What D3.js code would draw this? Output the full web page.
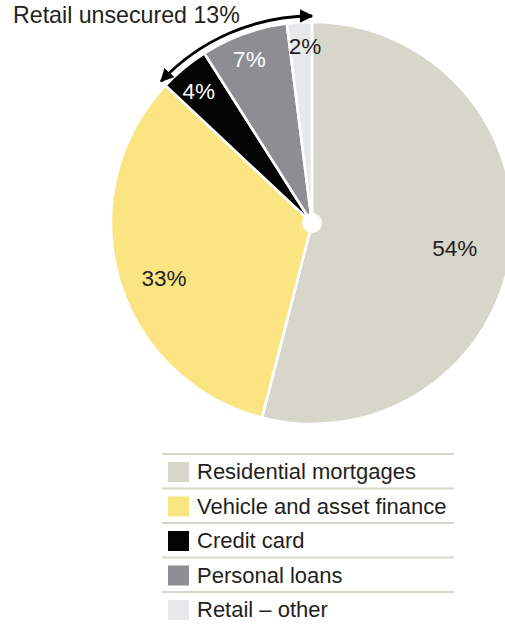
<!DOCTYPE html>
<html>
<head>
<meta charset="utf-8">
<script src="https://cdn.jsdelivr.net/npm/d3@7"></script>
<style>
  html, body { margin: 0; padding: 0; background: #fff; }
  svg { display: block; font-family: "Liberation Sans", Arial, Helvetica, sans-serif; }
</style>
</head>
<body>
<svg id="chart" width="505" height="624"></svg>
<script>
// Retail lending mix, percent of portfolio
const categories = ["Residential mortgages", "Vehicle and asset finance", "Credit card", "Personal loans", "Retail – other"];
const shares = [54, 33, 4, 7, 2];
const sliceColors = ["#d6d6cb", "#fbe482", "#030303", "#8e8d92", "#e7e8ea"];
const labelColors = ["#231f20", "#231f20", "#ffffff", "#ffffff", "#231f20"];
// Segments grouped under the bracket arrow
const unsecuredGroup = ["Credit card", "Personal loans", "Retail – other"];
const unsecuredTitle = "Retail unsecured";

const svg = d3.select("#chart");
const cx = 312, cy = 223, R = 201;

const data = categories.map((c, i) => ({ category: c, value: shares[i], color: sliceColors[i], text: labelColors[i] }));

const pie = d3.pie().value(d => d.value).sort(null).startAngle(0).endAngle(2 * Math.PI);
const arcs = pie(data);
const arc = d3.arc().innerRadius(0).outerRadius(R);

const g = svg.append("g").attr("transform", `translate(${cx},${cy})`);

g.selectAll("path.slice")
  .data(arcs)
  .join("path")
  .attr("class", "slice")
  .attr("d", arc)
  .attr("fill", d => d.data.color)
  .attr("stroke", "#ffffff")
  .attr("stroke-width", 2.6)
  .attr("stroke-linejoin", "round");

// white hub
g.append("circle").attr("r", 10).attr("fill", "#ffffff");

// percentage labels: big slices sit inside, thin slices near the rim
const labelNudge = {
  "Residential mortgages": [-6, 6],
  "Vehicle and asset finance": [-4, 13],
  "Credit card": [-1, 4],
  "Personal loans": [-3, 1],
  "Retail – other": [4, -1]
};
g.selectAll("text.pct")
  .data(arcs)
  .join("text")
  .attr("class", "pct")
  .attr("transform", d => {
    const r = d.data.value >= 20 ? 150 : 176;
    const [x, y] = d3.arc().innerRadius(r).outerRadius(r).centroid(d);
    const n = labelNudge[d.data.category] || [0, 0];
    return `translate(${x + n[0]},${y + n[1]})`;
  })
  .attr("text-anchor", "middle")
  .attr("dy", "0.36em")
  .attr("font-size", 22.5)
  .attr("fill", d => d.data.text)
  .text(d => d.data.value + "%");

// bracket arrow spanning the unsecured segments
const groupArcs = arcs.filter(a => unsecuredGroup.includes(a.data.category));
const a0 = d3.min(groupArcs, a => a.startAngle);
const a1 = d3.max(groupArcs, a => a.endAngle);
const groupTotal = d3.sum(groupArcs, a => a.data.value);
const rb = 207;

const defs = svg.append("defs");
defs.append("marker")
  .attr("id", "head")
  .attr("viewBox", "0 0 10 10")
  .attr("refX", 9)
  .attr("refY", 5)
  .attr("markerWidth", 4.8)
  .attr("markerHeight", 4.8)
  .attr("orient", "auto-start-reverse")
  .append("path")
  .attr("d", "M0,0 L10,5 L0,10 Z")
  .attr("fill", "#000");

const bp = d3.path();
// d3.path angles measure from +x; pie angles measure from 12 o'clock
bp.arc(0, 0, rb, a0 - Math.PI / 2, a1 - Math.PI / 2, false);
g.append("path")
  .attr("d", bp.toString())
  .attr("fill", "none")
  .attr("stroke", "#000")
  .attr("stroke-width", 2.8)
  .attr("marker-start", "url(#head)")
  .attr("marker-end", "url(#head)");

svg.append("text")
  .attr("x", 13)
  .attr("y", 23)
  .attr("font-size", 23.2)
  .attr("fill", "#231f20")
  .text(`${unsecuredTitle} ${groupTotal}%`);

// legend
const legend = svg.append("g").attr("class", "legend");
const rowH = 34.5, legendTop = 454;
const rows = legend.selectAll("g.row")
  .data(data)
  .join("g")
  .attr("class", "row")
  .attr("transform", (d, i) => `translate(0,${legendTop + i * rowH})`);

rows.append("line")
  .attr("x1", 162).attr("x2", 454)
  .attr("y1", 0).attr("y2", 0)
  .attr("stroke", "#d6d6cb")
  .attr("stroke-width", 2);

rows.append("rect")
  .attr("x", 168).attr("y", 8)
  .attr("width", 21).attr("height", 20)
  .attr("fill", d => d.color);

rows.append("text")
  .attr("x", 197).attr("y", 25)
  .attr("font-size", 22)
  .attr("fill", "#231f20")
  .text(d => d.category);
</script>
</body>
</html>
